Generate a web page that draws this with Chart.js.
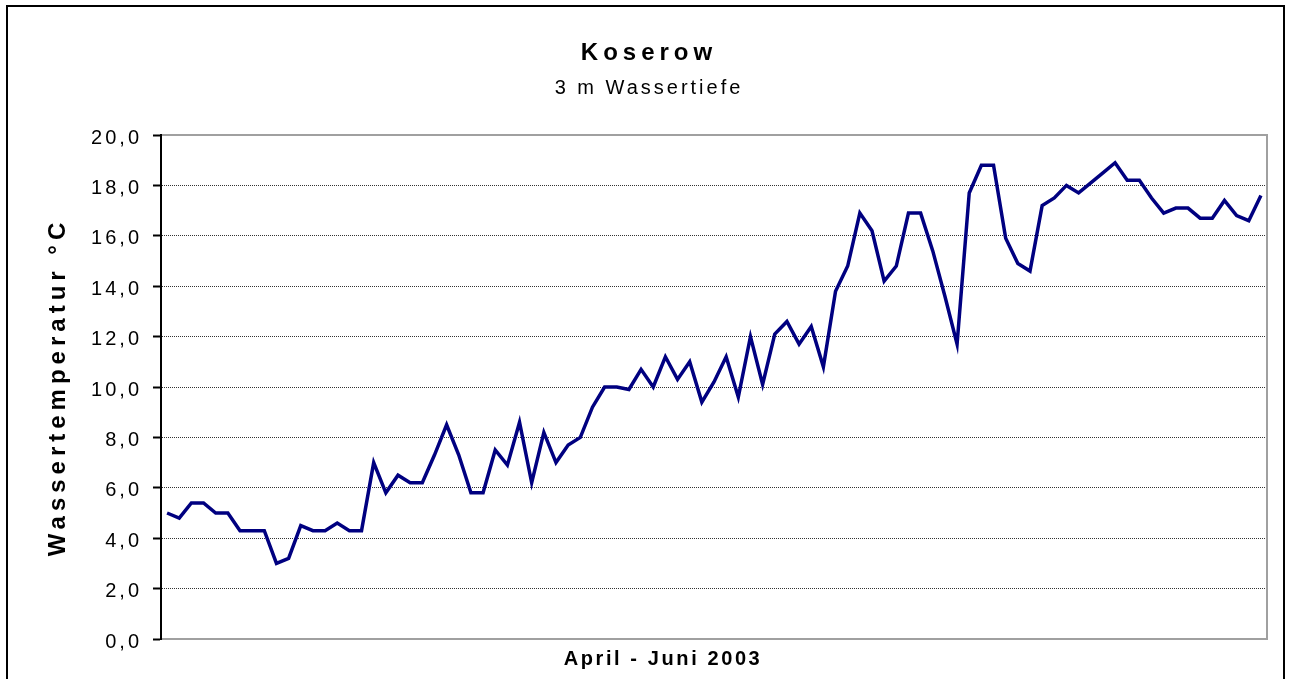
<!DOCTYPE html>
<html>
<head>
<meta charset="utf-8">
<title>Koserow - Wassertemperatur</title>
<script src="https://cdn.jsdelivr.net/npm/chart.js@4/dist/chart.umd.min.js"></script>
<style>
  html, body { margin: 0; padding: 0; background: #fff; }
  canvas { display: block; }
</style>
</head>
<body>
<canvas id="tempChart" width="1294" height="679"></canvas>
<script>
// Texts
const chartTitle = 'Koserow';
const chartSubtitle = '3 m Wassertiefe';
const yTitle = 'Wassertemperatur °C';
const xTitle = 'April - Juni 2003';

// Categories: one per day, April - June 2003
const months = ['04', '05', '06'];
const monthLengths = [30, 31, 30];
const days = [];
months.forEach((m, i) => {
    for (let d = 1; d <= monthLengths[i]; d++) {
        days.push(String(d).padStart(2, '0') + '.' + m + '.2003');
    }
});

// Water temperature in 3 m depth (°C)
const temperature = [
    // April
    5.0, 4.8, 5.4, 5.4, 5.0, 5.0, 4.3, 4.3, 4.3, 3.0,
    3.2, 4.5, 4.3, 4.3, 4.6, 4.3, 4.3, 7.0, 5.8, 6.5,
    6.2, 6.2, 7.3, 8.5, 7.3, 5.8, 5.8, 7.5, 6.9, 8.6,
    // May
    6.2, 8.2, 7.0, 7.7, 8.0, 9.2, 10.0, 10.0, 9.9, 10.7,
    10.0, 11.2, 10.3, 11.0, 9.4, 10.2, 11.2, 9.6, 12.0, 10.1,
    12.1, 12.6, 11.7, 12.4, 10.8, 13.8, 14.8, 16.9, 16.2, 14.2,
    14.8,
    // June
    16.9, 16.9, 15.4, 13.6, 11.7, 17.7, 18.8, 18.8, 15.9, 14.9,
    14.6, 17.2, 17.5, 18.0, 17.7, 18.1, 18.5, 18.9, 18.2, 18.2,
    17.5, 16.9, 17.1, 17.1, 16.7, 16.7, 17.4, 16.8, 16.6, 17.6
];

// Y tick labels (German decimal comma)
const yTickLabels = ['0,0', '2,0', '4,0', '6,0', '8,0', '10,0', '12,0', '14,0', '16,0', '18,0', '20,0'];

const fontFamily = '"Liberation Sans", Arial, sans-serif';
Chart.defaults.font.family = fontFamily;
Chart.defaults.color = '#000';

// The original text is set with wide letter spacing
const spacingByText = {
    'Koserow': '5px',
    '3 m Wassertiefe': '3px',
    'Wassertemperatur °C': '5px',
    'April - Juni 2003': '2.6px'
};

const letterSpacingPlugin = {
    id: 'letterSpacing',
    beforeInit(chart) {
        const ctx = chart.ctx;
        const fillText = ctx.fillText;
        ctx.fillText = function (text, x, y, maxWidth) {
            const before = this.letterSpacing;
            this.letterSpacing = spacingByText[text] || (yTickLabels.includes(text) ? '3px' : '0px');
            if (maxWidth === undefined) fillText.call(this, text, x, y);
            else fillText.call(this, text, x, y, maxWidth);
            this.letterSpacing = before;
        };
    }
};

// Plot area border, outer frame and the x axis caption
const framePlugin = {
    id: 'frame',
    beforeDatasetsDraw(chart) {
        const {ctx, chartArea: a} = chart;
        ctx.save();
        ctx.strokeStyle = '#a0a0a0';
        ctx.lineWidth = 2;
        ctx.beginPath();
        ctx.moveTo(a.left + 1, a.top);
        ctx.lineTo(a.right, a.top);
        ctx.lineTo(a.right, a.bottom);
        ctx.lineTo(a.left + 1, a.bottom);
        ctx.stroke();
        ctx.restore();
    },
    afterDraw(chart) {
        const ctx = chart.ctx;
        ctx.save();
        ctx.strokeStyle = '#000';
        ctx.lineWidth = 2;
        ctx.strokeRect(7, 6, chart.width - 17, chart.height + 20);
        ctx.font = 'bold 20px ' + fontFamily;
        ctx.fillStyle = '#000';
        ctx.textAlign = 'center';
        ctx.textBaseline = 'alphabetic';
        ctx.fillText(xTitle, chart.width / 2 + 16, chart.chartArea.bottom + 26);
        ctx.restore();
    }
};

const config = {
    type: 'line',
    data: {
        labels: days,
        datasets: [{
            label: yTitle,
            data: temperature,
            borderColor: '#000080',
            borderWidth: 3.5,
            pointRadius: 0,
            tension: 0,
            fill: false
        }]
    },
    options: {
        responsive: false,
        animation: false,
        layout: {
            padding: {left: 31, right: 27, top: 0, bottom: 0}
        },
        plugins: {
            legend: {display: false},
            tooltip: {enabled: false},
            title: {
                display: true,
                text: chartTitle,
                color: '#000',
                font: {size: 24, weight: 'bold'},
                padding: {top: 39, bottom: 0}
            },
            subtitle: {
                display: true,
                text: chartSubtitle,
                color: '#000',
                font: {size: 20, weight: 'normal'},
                padding: {top: 9, bottom: 34.2}
            }
        },
        scales: {
            x: {
                type: 'category',
                offset: true,
                afterFit(scale) { scale.height = 40; },
                ticks: {display: false},
                grid: {display: false},
                border: {display: false}
            },
            y: {
                min: 0,
                max: 20,
                afterFit(scale) { scale.width = 130; },
                ticks: {
                    stepSize: 2,
                    color: '#000',
                    font: {size: 20},
                    padding: 11,
                    labelOffset: 3,
                    callback: (value, index) => yTickLabels[index]
                },
                grid: {
                    color: '#333',
                    lineWidth: 1,
                    drawTicks: true,
                    tickLength: 8,
                    tickColor: '#000',
                    tickWidth: 2,
                    tickBorderDash: []
                },
                border: {display: true, color: '#000', width: 2, dash: [1, 1]},
                title: {
                    display: true,
                    text: yTitle,
                    color: '#000',
                    font: {size: 24, weight: 'bold'},
                    padding: {top: 12.5, bottom: 0}
                }
            }
        }
    },
    plugins: [letterSpacingPlugin, framePlugin]
};

window.onload = function () {
    const ctx = document.getElementById('tempChart').getContext('2d');
    new Chart(ctx, config);
};
</script>
</body>
</html>
